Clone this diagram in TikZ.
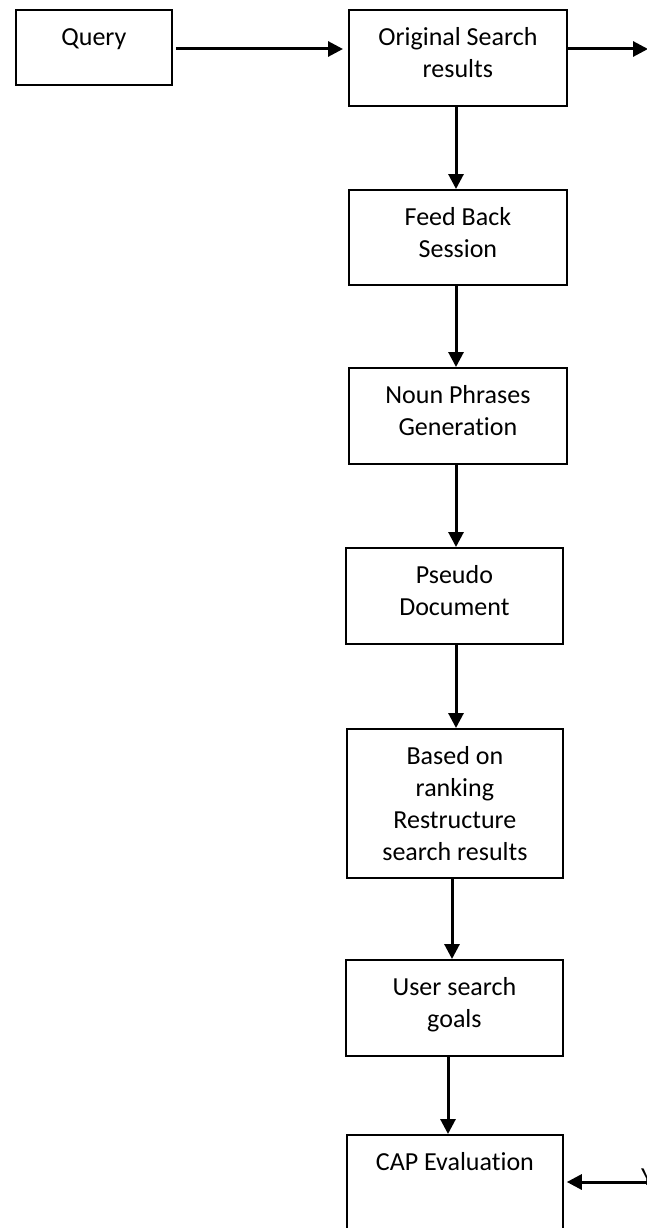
\documentclass[tikz,border=0pt]{standalone}
\usepackage{fontspec}
\setmainfont{Carlito}[Ligatures=NoCommon]
\usetikzlibrary{arrows.meta}
\newcommand\boxtxt[3]{\parbox[t][#2pt][t]{#1pt}{\centering\fontsize{26pt}{32pt}\selectfont\rule{0pt}{36pt}#3}}
\tikzset{
  flowbox/.style={draw, line width=1.8pt, inner sep=0pt, anchor=north west},
  arr/.style={line width=3pt, -{Triangle[length=15pt,width=15pt]}},
}
\begin{document}
\begin{tikzpicture}[x=1pt,y=-1pt]
\useasboundingbox (0,0) rectangle (646,1228);
\node[flowbox] (query)  at (15,9)    {\boxtxt{156}{75}{Query}};
\node[flowbox] (orig)   at (348,9)   {\boxtxt{218}{96}{Original Search\\results}};
\node[flowbox] (feed)   at (348,189) {\boxtxt{218}{95}{Feed Back\\Session}};
\node[flowbox] (noun)   at (348,367) {\boxtxt{218}{96}{Noun Phrases\\Generation}};
\node[flowbox] (pseudo) at (345,547) {\boxtxt{217}{96}{Pseudo\\Document}};
\node[flowbox] (based)  at (346,728) {\boxtxt{216}{149}{Based on\\ranking\\Restructure\\search results}};
\node[flowbox] (user)   at (345,959) {\boxtxt{217}{96}{User search\\goals}};
\node[flowbox] (cap)    at (346,1134){\boxtxt{216}{110}{CAP Evaluation}};
\node[anchor=base west, inner sep=0pt, font=\fontsize{26pt}{32pt}\selectfont] (ylab) at (641,1185) {Y};
\coordinate (ya) at (0,49);
\coordinate (outR) at (648,49);
\coordinate (inR) at (647,1182);
\coordinate (x456) at (456,0);
\coordinate (x452) at (452,0);
\coordinate (x448) at (448,0);
\draw[arr, shorten <=3pt, shorten >=5pt] (query.east |- ya) -- (orig.west |- ya);
\draw[arr] (orig.east |- ya) -- (outR);
\draw[arr] (orig.south -| x456) -- (feed.north -| x456);
\draw[arr] (feed.south -| x456) -- (noun.north -| x456);
\draw[arr] (noun.south -| x456) -- (pseudo.north -| x456);
\draw[arr] (pseudo.south -| x456) -- (based.north -| x456);
\draw[arr] (based.south -| x452) -- (user.north -| x452);
\draw[arr] (user.south -| x448) -- (cap.north -| x448);
\draw[arr, shorten >=3pt] (inR) -- (cap.east |- inR);
\end{tikzpicture}
\end{document}
